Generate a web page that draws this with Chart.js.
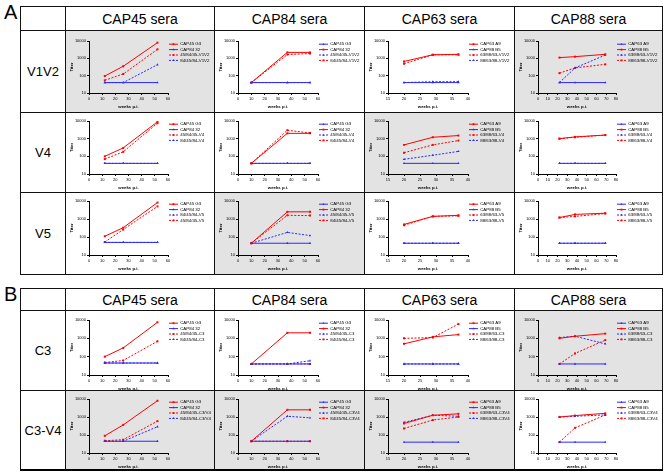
<!DOCTYPE html>
<html>
<head>
<meta charset="utf-8">
<script src="https://cdn.jsdelivr.net/npm/chart.js@4"></script>
<style>
body { margin: 0; background: #fff; font-family: 'Liberation Sans', Arial, sans-serif; }
#fig { position: relative; width: 664px; height: 472px; overflow: hidden; }
.cell { position: absolute; box-sizing: border-box; border: 1px solid #111; display: flex; align-items: center; justify-content: center; color: #000; }
.cell canvas { position: absolute; left: 0; top: 0; }
.head { font-size: 14px; }
.rowlab { font-size: 13px; }
.letter { position: absolute; font-size: 20px; line-height: 20px; }
</style>
</head>
<body>
<div id="fig"></div>
<script>
// column headers / row names
const sera = ['CAP45 sera', 'CAP84 sera', 'CAP63 sera', 'CAP88 sera'];
const regionsA = ['V1V2', 'V4', 'V5'];
const regionsB = ['C3', 'C3-V4'];

// sampling weeks per serum column
const weeksCAP45 = [12, 26, 52];
const weeksCAP84 = [10, 37, 54];
const weeksCAP63 = [20, 29, 37];
const weeksCAP88 = [22, 38, 69];

// tick labels
const yTicks = [10, 100, 1000, 10000];
const xTicksCAP45 = [0, 10, 20, 30, 40, 50, 60];
const xTicksCAP84 = [0, 10, 20, 30, 40, 50, 60];
const xTicksCAP63 = [15, 20, 25, 30, 35, 40];
const xTicksCAP88 = [0, 10, 20, 30, 40, 50, 60, 70, 80];

// line kinds: R/B solid red/blue, r/b dashed red/blue
const kindsRB = ['R', 'B', 'r', 'b'];
const kindsBR = ['B', 'R', 'b', 'r'];
const kindsRBbr = ['R', 'B', 'b', 'r'];

// ---- V1V2 ----
const v1v2CAP45 = [[95, 350, 8000], [40, 40, 40], [54, 125, 3300], [40, 40, 430]];
const v1v2CAP45Names = ['CAP45 G3', 'CAP84 32', '45/84/45-V1V2', '84/45/84-V1V2'];
const v1v2CAP84 = [[40, 40, 40], [40, 2200, 2200], [40, 40, 40], [40, 1650, 1900]];
const v1v2CAP84Names = ['CAP45 G3', 'CAP84 32', '45/84/45-V1V2', '84/45/84-V1V2'];
const v1v2CAP63 = [[660, 1600, 1700], [40, 40, 40], [490, 1600, 1600], [40, 45, 45]];
const v1v2CAP63Names = ['CAP63 A9', 'CAP88 B5', '63/88/63-V1V2', '88/63/88-V1V2'];
const v1v2CAP88 = [[40, 40, 40], [1100, 1250, 1700], [40, 280, 1550], [140, 280, 450]];
const v1v2CAP88Names = ['CAP63 A9', 'CAP88 B5', '63/88/63-V1V2', '88/63/88-V1V2'];

// ---- V4 ----
const v4CAP45 = [[100, 300, 9000], [40, 40, 40], [70, 180, 7500], [40, 40, 40]];
const v4CAP45Names = ['CAP45 G3', 'CAP84 32', '45/84/45-V4', '84/45/84-V4'];
const v4CAP84 = [[40, 40, 40], [40, 2000, 2000], [40, 40, 40], [40, 3000, 2100]];
const v4CAP84Names = ['CAP45 G3', 'CAP84 32', '45/84/45-V4', '84/45/84-V4'];
const v4CAP63 = [[445, 1200, 1500], [40, 40, 40], [160, 445, 780], [68, 115, 190]];
const v4CAP63Names = ['CAP63 A9', 'CAP88 B5', '63/88/63-V4', '88/63/88-V4'];
const v4CAP88 = [[40, 40, 40], [1000, 1260, 1600], [40, 40, 40], [1000, 1200, 1600]];
const v4CAP88Names = ['CAP63 A9', 'CAP88 B5', '63/88/63-V4', '88/63/88-V4'];

// ---- V5 ----
const v5CAP45 = [[110, 330, 8200], [50, 50, 50], [50, 50, 50], [53, 260, 5000]];
const v5CAP45Names = ['CAP45 G3', 'CAP84 32', '84/45/84-V5', '45/84/45-V5'];
const v5CAP84 = [[45, 45, 45], [45, 2500, 2500], [45, 180, 120], [45, 1600, 1550]];
const v5CAP84Names = ['CAP45 G3', 'CAP84 32', '45/84/45-V5', '84/45/84-V5'];
const v5CAP63 = [[500, 1400, 1600], [45, 45, 45], [450, 1400, 1500], [45, 45, 45]];
const v5CAP63Names = ['CAP63 A9', 'CAP88 B5', '63/88/63-V5', '88/63/88-V5'];
const v5CAP88 = [[45, 45, 45], [1200, 1800, 2100], [45, 45, 45], [1200, 1400, 2000]];
const v5CAP88Names = ['CAP63 A9', 'CAP88 B5', '63/88/63-V5', '88/63/88-V5'];

// ---- C3 ----
const c3CAP45 = [[100, 300, 7500], [45, 45, 45], [48, 62, 690], [45, 45, 45]];
const c3CAP45Names = ['CAP45 G3', 'CAP84 32', '45/84/45-C3', '84/45/84-C3'];
const c3CAP84 = [[40, 40, 40], [40, 2000, 2000], [40, 40, 60], [40, 40, 40]];
const c3CAP84Names = ['CAP45 G3', 'CAP84 32', '45/84/45-C3', '84/45/84-C3'];
const c3CAP63 = [[500, 1200, 1600], [40, 40, 40], [1000, 1100, 6000], [40, 40, 40]];
const c3CAP63Names = ['CAP63 A9', 'CAP88 B5', '63/88/63-C3', '88/63/88-C3'];
const c3CAP88 = [[40, 40, 40], [1000, 1300, 1800], [1100, 1300, 500], [40, 150, 800]];
const c3CAP88Names = ['CAP63 A9', 'CAP88 B5', '63/88/63-C3', '88/63/88-C3'];

// ---- C3-V4 ----
const c3v4CAP45 = [[90, 365, 8000], [45, 45, 45], [48, 55, 590], [45, 45, 290]];
const c3v4CAP45Names = ['CAP45 G3', 'CAP84 32', '45/84/45-C3/V4', '84/45/84-C3/V4'];
const c3v4CAP84 = [[45, 45, 45], [45, 2500, 2500], [45, 1100, 900], [45, 45, 45]];
const c3v4CAP84Names = ['CAP45 G3', 'CAP84 32', '45/84/45-C3V4', '84/45/84-C3V4'];
const c3v4CAP63 = [[435, 1250, 1500], [40, 40, 40], [230, 680, 1000], [500, 1250, 1100]];
const c3v4CAP63Names = ['CAP63 A9', 'CAP88 B5', '63/88/63-C3V4', '88/63/88-C3V4'];
const c3v4CAP88 = [[40, 40, 40], [1000, 1200, 1600], [1000, 1100, 1300], [40, 250, 1300]];
const c3v4CAP88Names = ['CAP63 A9', 'CAP88 B5', '63/88/63-C3V4', '88/63/88-C3V4'];

// layout (pixels)
const colX = [20, 65, 214, 364, 514, 662];
const rowsA = [6, 30, 112, 192, 274];
const rowsB = [288, 310, 390, 470];
const GRAY = '#e3e3e3';

const columns = [
  { weeks: weeksCAP45, ticks: xTicksCAP45 },
  { weeks: weeksCAP84, ticks: xTicksCAP84 },
  { weeks: weeksCAP63, ticks: xTicksCAP63 },
  { weeks: weeksCAP88, ticks: xTicksCAP88 }
];

const panelsA = [
  [[v1v2CAP45, v1v2CAP45Names, kindsRB, 1], [v1v2CAP84, v1v2CAP84Names, kindsBR, 0], [v1v2CAP63, v1v2CAP63Names, kindsRB, 0], [v1v2CAP88, v1v2CAP88Names, kindsBR, 1]],
  [[v4CAP45, v4CAP45Names, kindsRB, 0], [v4CAP84, v4CAP84Names, kindsBR, 0], [v4CAP63, v4CAP63Names, kindsRB, 1], [v4CAP88, v4CAP88Names, kindsBR, 0]],
  [[v5CAP45, v5CAP45Names, kindsRBbr, 0], [v5CAP84, v5CAP84Names, kindsBR, 1], [v5CAP63, v5CAP63Names, kindsRB, 0], [v5CAP88, v5CAP88Names, kindsBR, 0]]
];
const panelsB = [
  [[c3CAP45, c3CAP45Names, kindsRB, 0], [c3CAP84, c3CAP84Names, kindsBR, 0], [c3CAP63, c3CAP63Names, kindsRB, 0], [c3CAP88, c3CAP88Names, kindsBR, 1]],
  [[c3v4CAP45, c3v4CAP45Names, kindsRB, 1], [c3v4CAP84, c3v4CAP84Names, kindsBR, 1], [c3v4CAP63, c3v4CAP63Names, kindsRB, 1], [c3v4CAP88, c3v4CAP88Names, kindsBR, 0]]
];
// plot offsets from row top / bottom
const offA = [[11, 19], [9, 18], [9, 19]];
const offB = [[10, 15], [9, 17]];

const fig = document.getElementById('fig');

function addBox(x, y, w, h, bg) {
  const d = document.createElement('div');
  d.className = 'cell';
  d.style.left = x + 'px';
  d.style.top = y + 'px';
  d.style.width = (w + 1) + 'px';
  d.style.height = (h + 1) + 'px';
  if (bg) d.style.background = bg;
  fig.appendChild(d);
  return d;
}

function addLetter(txt, x, y) {
  const d = document.createElement('div');
  d.className = 'letter';
  d.style.left = x + 'px';
  d.style.top = y + 'px';
  d.textContent = txt;
  fig.appendChild(d);
}

function lineStyle(kind) {
  const red = kind.toUpperCase() === 'R';
  const col = red ? '#ff0000' : '#2a2aff';
  return {
    borderColor: col,
    backgroundColor: col,
    borderWidth: 1,
    borderDash: kind === kind.toLowerCase() ? [2, 1.5] : [],
    pointStyle: red ? 'rect' : 'triangle',
    pointRadius: 1.4,
    pointBorderWidth: 0,
    tension: 0
  };
}

const LEGEND_LINE = 9;

// the legend sample: a short line with the marker in its middle, like the original
const legendMarks = {
  id: 'legendMarks',
  afterDraw(chart) {
    const lg = chart.legend;
    if (!lg || !lg.legendHitBoxes) return;
    const ctx = chart.ctx;
    lg.legendItems.forEach((item, i) => {
      const box = lg.legendHitBoxes[i];
      const ds = chart.data.datasets[item.datasetIndex];
      if (!box || !ds) return;
      const cy = box.top + box.height / 2;
      ctx.save();
      ctx.strokeStyle = ds.borderColor;
      ctx.lineWidth = 1;
      ctx.setLineDash(ds.borderDash || []);
      ctx.beginPath();
      ctx.moveTo(box.left, cy);
      ctx.lineTo(box.left + LEGEND_LINE, cy);
      ctx.stroke();
      ctx.setLineDash([]);
      ctx.fillStyle = ds.backgroundColor;
      if (Chart.helpers && Chart.helpers.drawPoint) {
        Chart.helpers.drawPoint(ctx, { pointStyle: ds.pointStyle, radius: 1.3, borderWidth: 0, rotation: 0 },
          box.left + LEGEND_LINE / 2, cy);
      }
      ctx.restore();
    });
  }
};

const tiny = { family: "'Liberation Sans', Arial, sans-serif", size: 4 };
const legendFont = { family: "'Liberation Sans', Arial, sans-serif", size: 4.4 };
const tinyBold = { family: "'Liberation Sans', Arial, sans-serif", size: 4.3, weight: 'bold' };

function drawPanel(cell, w, h, col, panel, off) {
  const [vals, names, kinds] = panel;
  const cv = document.createElement('canvas');
  cv.width = w - 1;
  cv.height = h - 1;
  cell.appendChild(cv);

  const xTicks = col.ticks;
  const datasets = vals.map((v, i) => Object.assign({
    label: names[i],
    data: col.weeks.map((wk, j) => ({ x: wk, y: v[j] }))
  }, lineStyle(kinds[i])));

  new Chart(cv, {
    type: 'line',
    data: { datasets: datasets },
    plugins: [legendMarks],
    options: {
      responsive: false,
      animation: false,
      devicePixelRatio: 1,
      layout: { padding: { left: 3, right: 3, top: off[0] - 1, bottom: off[1] - 16 } },
      plugins: {
        tooltip: { enabled: false },
        legend: {
          position: 'right',
          align: 'start',
          maxWidth: 43,
          labels: {
            usePointStyle: true,
            pointStyle: 'line',
            pointStyleWidth: LEGEND_LINE,
            font: legendFont,
            color: '#000',
            padding: 1
          }
        }
      },
      scales: {
        x: {
          type: 'linear',
          min: xTicks[0],
          max: xTicks[xTicks.length - 1],
          afterBuildTicks: s => { s.ticks = xTicks.map(v => ({ value: v })); },
          afterFit: s => { s.height = 16; },
          ticks: { font: tiny, color: '#000', padding: 1, maxRotation: 0, autoSkip: false, callback: v => String(v) },
          grid: { drawOnChartArea: false, tickLength: 2, color: '#000' },
          border: { color: '#000', width: 1 },
          title: { display: true, text: 'weeks p.i.', font: tinyBold, color: '#000', padding: { top: 1, bottom: 0 } }
        },
        y: {
          type: 'logarithmic',
          min: yTicks[0],
          max: yTicks[yTicks.length - 1],
          afterBuildTicks: s => { s.ticks = yTicks.map(v => ({ value: v })); },
          afterFit: s => { s.width = 20; },
          ticks: { font: tiny, color: '#000', padding: 1, callback: v => String(v) },
          grid: { drawOnChartArea: false, tickLength: 2, color: '#000' },
          border: { color: '#000', width: 1 },
          title: { display: true, text: 'Titer', font: tinyBold, color: '#000', padding: { top: 0, bottom: 1 } }
        }
      }
    }
  });
}

function drawSection(letter, rows, regions, panels, offs) {
  addLetter(letter, 4, rows[0] - 4);
  // header row
  addBox(colX[0], rows[0], colX[1] - colX[0], rows[1] - rows[0]);
  sera.forEach((s, c) => {
    const b = addBox(colX[c + 1], rows[0], colX[c + 2] - colX[c + 1], rows[1] - rows[0]);
    b.classList.add('head');
    b.textContent = s;
  });
  regions.forEach((reg, r) => {
    const y = rows[r + 1], h = rows[r + 2] - rows[r + 1];
    const lab = addBox(colX[0], y, colX[1] - colX[0], h);
    lab.classList.add('rowlab');
    lab.textContent = reg;
    panels[r].forEach((p, c) => {
      const w = colX[c + 2] - colX[c + 1];
      const cell = addBox(colX[c + 1], y, w, h, p[3] ? GRAY : null);
      drawPanel(cell, w, h, columns[c], p, offs[r]);
    });
  });
}

drawSection('A', rowsA, regionsA, panelsA, offA);
drawSection('B', rowsB, regionsB, panelsB, offB);

// heavier bottom edge of panel B
const edge = document.createElement('div');
edge.style.cssText = 'position:absolute;left:' + colX[0] + 'px;top:' + (rowsB[3] - 1) + 'px;width:' + (colX[5] - colX[0] + 1) + 'px;height:2px;background:#000';
fig.appendChild(edge);
</script>
</body>
</html>
